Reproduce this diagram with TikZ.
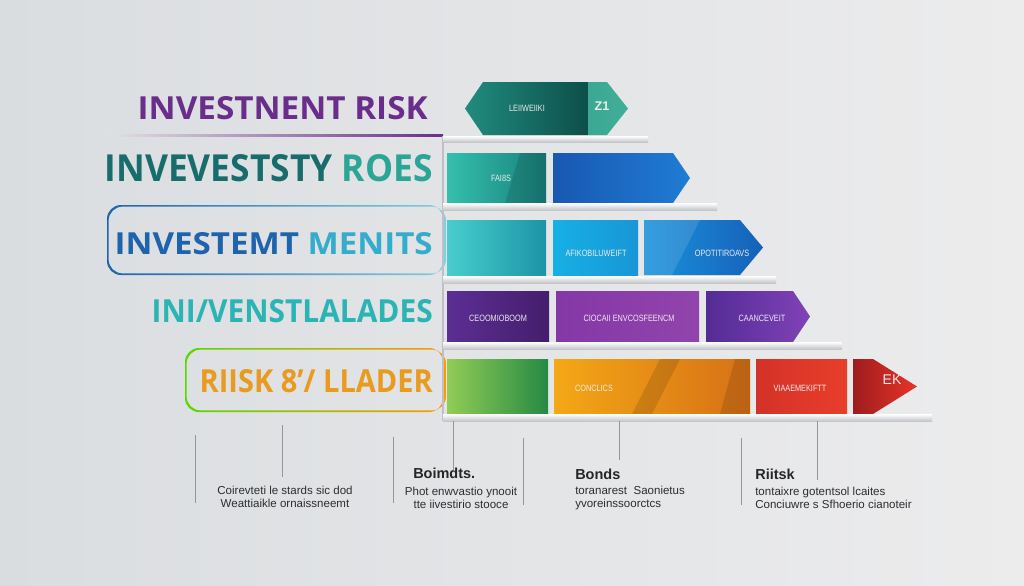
\documentclass[tikz,border=0pt]{standalone}
\usepackage{fontspec}
\usepackage{graphicx}
\setmainfont{Open Sans}
\newfontfamily\labelfont{Liberation Sans}
\usetikzlibrary{positioning}

\definecolor{bgleft}{RGB}{218,221,224}
\definecolor{bgmid}{RGB}{248,248,248}
\definecolor{bgright}{RGB}{236,236,237}
\definecolor{titlepurple}{RGB}{107,45,140}
\definecolor{tealdark}{RGB}{24,108,108}
\definecolor{teallight}{RGB}{42,165,150}
\definecolor{blueA}{RGB}{30,100,172}
\definecolor{blueB}{RGB}{52,172,204}
\definecolor{cyanT}{RGB}{42,180,180}
\definecolor{orangeT}{RGB}{232,155,30}
\definecolor{shelfgray}{RGB}{196,198,202}
\definecolor{postgray}{RGB}{190,192,196}
\definecolor{tickgray}{RGB}{150,150,152}
\definecolor{notegray}{RGB}{45,45,48}

\newlength\pxu
\setlength\pxu{0.025cm}
\newcommand\fitto[3]{\resizebox{#1\pxu}{#2\pxu}{#3}}
\newcommand\blk[1]{{\labelfont\fontsize{6.5}{7}\selectfont\scalebox{0.8}[1]{#1}}}

\begin{document}
\begin{tikzpicture}[x=0.025cm,y=-0.025cm]
  \tikzstyle{title}=[anchor=east,inner sep=0pt,font=\bfseries]
  \tikzstyle{shelf}=[top color=white,bottom color=shelfgray]
  \tikzstyle{lbl}=[inner sep=0pt,text=white!92!black]
  \tikzstyle{head}=[inner sep=0pt,anchor=west,font=\labelfont\bfseries\fontsize{10.3}{12}\selectfont,text=black!85]
  \tikzstyle{note}=[inner sep=0pt,font=\labelfont\fontsize{8.2}{9.4}\selectfont,text=notegray]
  \tikzstyle{tick}=[draw=tickgray,line width=0.6pt]
  \tikzstyle{sheen}=[fill=white,fill opacity=0.12]
  \tikzstyle{darken}=[fill=black,fill opacity=0.12]

  % background
  \shade[left color=bgleft,middle color=bgmid,right color=bgright] (0,0) rectangle (1024,585);
  \useasboundingbox (0,0) rectangle (1024,585);

  % titles on the left
  \shade[left color=black!12,right color=titlepurple] (110,134) rectangle (443,136.5);
  \node[title] (t1) at (428,108.5) {\fitto{290}{23}{\color{titlepurple}INVESTNENT RISK}};
  \node[title] (t2) at (433,168.5) {\fitto{328}{27}{\color{tealdark}INVEVESTSTY \color{teallight}ROES}};
  \shade[left color=blueA,right color=blueB!60,even odd rule,rounded corners=0.35cm]
    (107,205) rectangle (443,275) (108.6,206.6) rectangle (446,273.4);
  \node[title] (t3) at (433,244) {\fitto{318}{22}{\color{blueA}INVESTEMT \color{blueB}MENITS}};
  \node[title] (t4) at (433,311.5) {\fitto{281}{23}{\color{cyanT}INI/VENSTLALADES}};
  \shade[left color=green!60!yellow!85!black,middle color=orange!85!yellow,right color=orange!80!yellow,even odd rule,rounded corners=0.35cm]
    (185,348) rectangle (443,412) (186.6,349.6) rectangle (446,410.4);
  \node[title] (t5) at (433,381.5) {\fitto{233}{23}{\color{orangeT}RIISK 8'/ LLADER}};

  % row 1
  \shade[left color={rgb,255:red,32;green,140;blue,126},right color={rgb,255:red,13;green,78;blue,74}]
    (465,108.5) -- (483,82) -- (588,82) -- (588,135) -- (483,135) -- cycle;
  \shade[left color={rgb,255:red,58;green,168;blue,146},right color={rgb,255:red,64;green,174;blue,152}]
    (588,82) -- (607,82) -- (628,108.5) -- (607,135) -- (588,135) -- cycle;
  \node[lbl] (b11) at (527,108.5) {\blk{LEIIWEIIKI}};
  \node[lbl] (b12) at (602,106) {\labelfont\bfseries\small Z1};

  % row 2
  \shade[left color={rgb,255:red,52;green,192;blue,172},right color={rgb,255:red,24;green,128;blue,124}]
    (447,153) rectangle (546,203);
  \fill[darken] (520,153) -- (546,153) -- (546,203) -- (505,203) -- cycle;
  \shade[left color={rgb,255:red,24;green,88;blue,178},right color={rgb,255:red,32;green,124;blue,212}]
    (553,153) -- (673,153) -- (690,178) -- (673,203) -- (553,203) -- cycle;
  \node[lbl] (b21) at (501,178) {\blk{FAI8S}};

  % row 3
  \shade[left color={rgb,255:red,72;green,206;blue,204},right color={rgb,255:red,28;green,148;blue,168}]
    (447,220) rectangle (546,275);
  \shade[left color={rgb,255:red,22;green,176;blue,228},right color={rgb,255:red,24;green,150;blue,214}]
    (553,220) rectangle (638,275);
  \shade[left color={rgb,255:red,26;green,146;blue,218},right color={rgb,255:red,22;green,96;blue,186}]
    (644,220) -- (740,220) -- (763,247.5) -- (740,275) -- (644,275) -- cycle;
  \fill[sheen] (644,220) -- (700,220) -- (672,275) -- (644,275) -- cycle;
  \node[lbl] (b31) at (596,253) {\blk{AFIKOBILUWEIFT}};
  \node[lbl] (b32) at (722,253) {\blk{OPOTITIROAVS}};

  % row 4
  \shade[left color={rgb,255:red,92;green,46;blue,148},right color={rgb,255:red,68;green,30;blue,108}]
    (447,291) rectangle (549,342);
  \shade[left color={rgb,255:red,132;green,56;blue,166},middle color={rgb,255:red,160;green,74;blue,178},right color={rgb,255:red,146;green,68;blue,172}]
    (556,291) rectangle (699,342);
  \shade[left color={rgb,255:red,84;green,44;blue,150},right color={rgb,255:red,128;green,66;blue,182}]
    (706,291) -- (793,291) -- (810,316.5) -- (793,342) -- (706,342) -- cycle;
  \node[lbl] (b41) at (498,318) {\blk{CEOOMIOBOOM}};
  \node[lbl] (b42) at (629,318) {\blk{CIOCAII ENVCOSFEENCM}};
  \node[lbl] (b43) at (762,318) {\blk{CAANCEVEIT}};

  % row 5
  \shade[left color={rgb,255:red,146;green,204;blue,86},right color={rgb,255:red,38;green,138;blue,68}]
    (447,359) rectangle (548,414);
  \shade[left color={rgb,255:red,244;green,168;blue,22},middle color={rgb,255:red,246;green,188;blue,30},right color={rgb,255:red,214;green,112;blue,22}]
    (554,359) rectangle (750,414);
  \fill[darken] (660,359) -- (680,359) -- (652,414) -- (632,414) -- cycle;
  \fill[darken] (735,359) -- (750,359) -- (750,414) -- (720,414) -- cycle;
  \shade[left color={rgb,255:red,212;green,50;blue,40},right color={rgb,255:red,232;green,62;blue,42}]
    (756,359) rectangle (847,414);
  \shade[left color={rgb,255:red,158;green,28;blue,30},right color={rgb,255:red,232;green,52;blue,40}]
    (853,359) -- (873,359) -- (917,386.5) -- (873,414) -- (853,414) -- cycle;
  \node[lbl] (b51) at (594,388) {\blk{CONCLICS}};
  \node[lbl] (b52) at (800,388) {\blk{VIAAEMEKIFTT}};
  \node[lbl] (b53) at (892,380) {\labelfont\fontsize{10}{10}\selectfont EK};

  % shelves
  \draw[postgray,line width=1.4pt] (443,136) -- (443,421);
  \shade[shelf] (443,136) rectangle (648,142);
  \shade[shelf] (443,203) rectangle (717,210);
  \shade[shelf] (443,276) rectangle (776,283);
  \shade[shelf] (443,342) rectangle (842,349);
  \shade[shelf] (443,414) rectangle (932,421);

  % ticks below
  \draw[tick] (195,435) -- (195,503);
  \draw[tick] (282,425) -- (282,477);
  \draw[tick] (393,437) -- (393,503);
  \draw[tick] (453,421) -- (453,470);
  \draw[tick] (523,438) -- (523,505);
  \draw[tick] (619,421) -- (619,460);
  \draw[tick] (741,438) -- (741,505);
  \draw[tick] (817,421) -- (817,480);

  % notes
  \node[note,align=center] (n1) at (285,497) {Coirevteti le stards sic dod\\Weattiaikle ornaissneemt};
  \node[head] (h2) at (413,473) {Boimdts.};
  \node[note,align=center] (n2) at (461,498) {Phot enwvastio ynooit\\tte iivestirio stooce};
  \node[head] (h3) at (575,474) {Bonds};
  \node[note,align=left,anchor=west] (n3) at (575,498) {toranarest\ \ Saonietus\\yvoreinssoorctcs};
  \node[head] (h4) at (755,474) {Riitsk};
  \node[note,align=left,anchor=west] (n4) at (755,498) {tontaixre\ gotentsol lcaites\\Conciuwre s Sfhoerio cianoteir};
\end{tikzpicture}
\end{document}
